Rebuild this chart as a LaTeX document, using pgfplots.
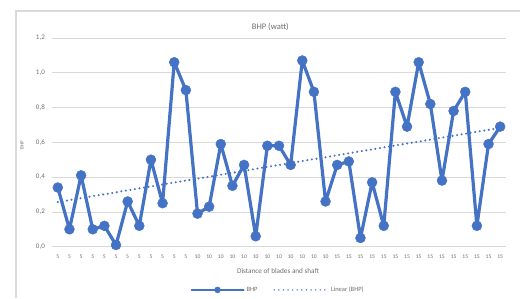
\documentclass[border=0pt]{standalone}
\usepackage{fontspec}
\setmainfont{Carlito}
\usepackage{pgfplots}
\usepackage{pgfplotstable}
\pgfplotsset{compat=1.18}
\definecolor{bhp}{HTML}{4472C4}
\definecolor{gridc}{HTML}{D9D9D9}
\definecolor{txt}{HTML}{6E6E6E}

\pgfplotstableread{
x y
0 0.34
1 0.10
2 0.41
3 0.10
4 0.12
5 0.01
6 0.26
7 0.12
8 0.50
9 0.25
10 1.06
11 0.90
12 0.19
13 0.23
14 0.59
15 0.35
16 0.47
17 0.06
18 0.58
19 0.58
20 0.47
21 1.07
22 0.89
23 0.26
24 0.47
25 0.49
26 0.05
27 0.37
28 0.12
29 0.89
30 0.69
31 1.06
32 0.82
33 0.38
34 0.78
35 0.89
36 0.12
37 0.59
38 0.69
}\bhpdata

\begin{document}
\begin{tikzpicture}
\begin{axis}[
  at={(52pt,51.3pt)}, anchor=south west, scale only axis,
  width=454pt, height=208.8pt,
  xmin=-0.5, xmax=38.5, ymin=0, ymax=1.2,
  ytick={0,0.2,0.4,0.6,0.8,1.0,1.2},
  xtick={0,...,38},
  xticklabels={5,5,5,5,5,5,5,5,5,5,5,5,10,10,10,10,10,10,10,10,10,10,10,10,15,15,15,15,15,15,15,15,15,15,15,15,15,15,15},
  axis line style={draw=none},
  major tick length=0pt,
  ymajorgrids, grid style={gridc, line width=0.8pt},
  /pgf/number format/.cd, assume math mode=true, use comma, fixed, fixed zerofill, precision=1,
  /pgfplots/.cd,
  yticklabel style={font=\fontsize{7}{8}\selectfont, text=txt, inner sep=0pt, anchor=east, xshift=-7pt},
  xticklabel style={font=\fontsize{5.6}{6}\selectfont, text=txt, inner sep=0pt, anchor=north, yshift=-8pt},
  title={BHP (watt)},
  title style={at={(axis description cs:0.481,1.0235)}, anchor=center, font=\fontsize{8.5}{9}\selectfont, text=txt, inner sep=0pt},
  xlabel={Distance of blades and shaft},
  xlabel style={at={(axis description cs:0.498,-0.116)}, anchor=center, font=\fontsize{7.2}{8}\selectfont, text=txt, inner sep=0pt},
  ylabel={BHP},
  ylabel style={at={(axis description cs:-0.066,0.487)}, anchor=center, font=\fontsize{5}{6}\selectfont, text=txt, inner sep=0pt},
  legend style={at={(axis description cs:0.498,-0.207)}, anchor=center, draw=none, fill=none,
    legend columns=2, font=\fontsize{6.5}{7}\selectfont, text=txt,
    /tikz/every even column/.append style={column sep=14pt}},
  clip=false,
]
\addplot[color=bhp, line width=3.2pt, line join=round, line cap=round, mark=*, mark size=5pt, mark options={fill=bhp, draw=bhp, line width=0.4pt},
  legend image code/.code={\draw[line width=2pt, mark size=3pt, mark repeat=2, mark phase=2] plot coordinates {(0pt,0pt) (26pt,0pt) (52pt,0pt)};}]
  table[x=x, y=y] {\bhpdata};
\addlegendentry{BHP}
\addplot[color=bhp, line width=2.3pt, line cap=round, dash pattern=on 0pt off 4.6pt, no marks,
  legend image code/.code={\draw[line width=1.6pt] (0pt,0pt) -- (54pt,0pt);}]
  table[x=x, y={create col/linear regression={y=y}}] {\bhpdata};
\addlegendentry{Linear (BHP)}
\end{axis}
\draw[gridc, line width=1.3pt] (16pt,0pt) -- (16pt,287pt) -- (520pt,287pt);
\pgfresetboundingbox
\useasboundingbox (0pt,0pt) rectangle (520pt,298pt);
\end{tikzpicture}
\end{document}
